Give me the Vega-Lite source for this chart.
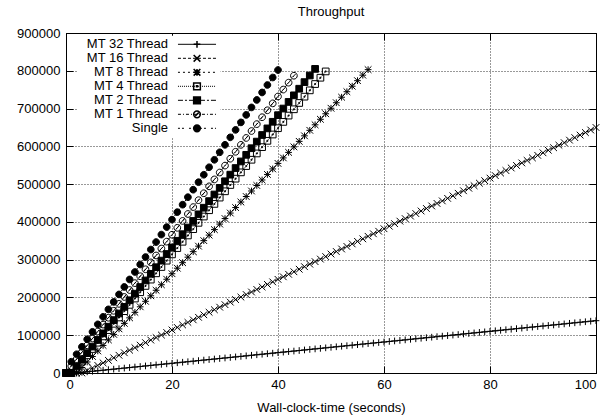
{
"$schema": "https://vega.github.io/schema/vega-lite/v6.json",
"width": 530, "height": 340,
"autosize": {"type": "none"},
"padding": {"left": 66, "top": 33, "right": 13, "bottom": 47},
"title": {"text": "Throughput", "fontSize": 13, "fontWeight": "normal", "font": "Liberation Sans", "color": "black", "anchor": "middle", "offset": 8},
"config": {
  "view": {"stroke": "black", "strokeWidth": 1},
  "font": "Liberation Sans",
  "axis": {"labelFont": "Liberation Sans", "labelFontSize": 13, "labelColor": "black", "titleFont": "Liberation Sans", "titleFontSize": 13, "titleFontWeight": "normal", "titleColor": "black", "domainColor": "black", "tickColor": "black", "tickSize": -7, "gridColor": "black", "gridDash": [1, 2], "gridOpacity": 0.8}
},
"data": {"values": [
{"s":"MT 32 Thread","t":0,"v":0},{"s":"MT 32 Thread","t":1,"v":0},{"s":"MT 32 Thread","t":2,"v":300},{"s":"MT 32 Thread","t":3,"v":1700},{"s":"MT 32 Thread","t":4,"v":3100},{"s":"MT 32 Thread","t":5,"v":4600},{"s":"MT 32 Thread","t":6,"v":6000},{"s":"MT 32 Thread","t":7,"v":7400},{"s":"MT 32 Thread","t":8,"v":8800},{"s":"MT 32 Thread","t":9,"v":10200},
{"s":"MT 32 Thread","t":10,"v":11600},{"s":"MT 32 Thread","t":11,"v":13000},{"s":"MT 32 Thread","t":12,"v":14400},{"s":"MT 32 Thread","t":13,"v":15800},{"s":"MT 32 Thread","t":14,"v":17200},{"s":"MT 32 Thread","t":15,"v":18700},{"s":"MT 32 Thread","t":16,"v":20100},{"s":"MT 32 Thread","t":17,"v":21500},{"s":"MT 32 Thread","t":18,"v":22900},{"s":"MT 32 Thread","t":19,"v":24300},
{"s":"MT 32 Thread","t":20,"v":25700},{"s":"MT 32 Thread","t":21,"v":27100},{"s":"MT 32 Thread","t":22,"v":28500},{"s":"MT 32 Thread","t":23,"v":29900},{"s":"MT 32 Thread","t":24,"v":31300},{"s":"MT 32 Thread","t":25,"v":32800},{"s":"MT 32 Thread","t":26,"v":34200},{"s":"MT 32 Thread","t":27,"v":35600},{"s":"MT 32 Thread","t":28,"v":37000},{"s":"MT 32 Thread","t":29,"v":38400},
{"s":"MT 32 Thread","t":30,"v":39800},{"s":"MT 32 Thread","t":31,"v":41200},{"s":"MT 32 Thread","t":32,"v":42600},{"s":"MT 32 Thread","t":33,"v":44000},{"s":"MT 32 Thread","t":34,"v":45400},{"s":"MT 32 Thread","t":35,"v":46900},{"s":"MT 32 Thread","t":36,"v":48300},{"s":"MT 32 Thread","t":37,"v":49700},{"s":"MT 32 Thread","t":38,"v":51100},{"s":"MT 32 Thread","t":39,"v":52500},
{"s":"MT 32 Thread","t":40,"v":53900},{"s":"MT 32 Thread","t":41,"v":55300},{"s":"MT 32 Thread","t":42,"v":56700},{"s":"MT 32 Thread","t":43,"v":58100},{"s":"MT 32 Thread","t":44,"v":59500},{"s":"MT 32 Thread","t":45,"v":61000},{"s":"MT 32 Thread","t":46,"v":62400},{"s":"MT 32 Thread","t":47,"v":63800},{"s":"MT 32 Thread","t":48,"v":65200},{"s":"MT 32 Thread","t":49,"v":66600},
{"s":"MT 32 Thread","t":50,"v":68000},{"s":"MT 32 Thread","t":51,"v":69400},{"s":"MT 32 Thread","t":52,"v":70800},{"s":"MT 32 Thread","t":53,"v":72200},{"s":"MT 32 Thread","t":54,"v":73600},{"s":"MT 32 Thread","t":55,"v":75100},{"s":"MT 32 Thread","t":56,"v":76500},{"s":"MT 32 Thread","t":57,"v":77900},{"s":"MT 32 Thread","t":58,"v":79300},{"s":"MT 32 Thread","t":59,"v":80700},
{"s":"MT 32 Thread","t":60,"v":82100},{"s":"MT 32 Thread","t":61,"v":83500},{"s":"MT 32 Thread","t":62,"v":84900},{"s":"MT 32 Thread","t":63,"v":86300},{"s":"MT 32 Thread","t":64,"v":87700},{"s":"MT 32 Thread","t":65,"v":89200},{"s":"MT 32 Thread","t":66,"v":90600},{"s":"MT 32 Thread","t":67,"v":92000},{"s":"MT 32 Thread","t":68,"v":93400},{"s":"MT 32 Thread","t":69,"v":94800},
{"s":"MT 32 Thread","t":70,"v":96200},{"s":"MT 32 Thread","t":71,"v":97600},{"s":"MT 32 Thread","t":72,"v":99000},{"s":"MT 32 Thread","t":73,"v":100400},{"s":"MT 32 Thread","t":74,"v":101800},{"s":"MT 32 Thread","t":75,"v":103300},{"s":"MT 32 Thread","t":76,"v":104700},{"s":"MT 32 Thread","t":77,"v":106100},{"s":"MT 32 Thread","t":78,"v":107500},{"s":"MT 32 Thread","t":79,"v":108900},
{"s":"MT 32 Thread","t":80,"v":110300},{"s":"MT 32 Thread","t":81,"v":111700},{"s":"MT 32 Thread","t":82,"v":113100},{"s":"MT 32 Thread","t":83,"v":114500},{"s":"MT 32 Thread","t":84,"v":115900},{"s":"MT 32 Thread","t":85,"v":117400},{"s":"MT 32 Thread","t":86,"v":118800},{"s":"MT 32 Thread","t":87,"v":120200},{"s":"MT 32 Thread","t":88,"v":121600},{"s":"MT 32 Thread","t":89,"v":123000},
{"s":"MT 32 Thread","t":90,"v":124400},{"s":"MT 32 Thread","t":91,"v":125800},{"s":"MT 32 Thread","t":92,"v":127200},{"s":"MT 32 Thread","t":93,"v":128600},{"s":"MT 32 Thread","t":94,"v":130000},{"s":"MT 32 Thread","t":95,"v":131500},{"s":"MT 32 Thread","t":96,"v":132900},{"s":"MT 32 Thread","t":97,"v":134300},{"s":"MT 32 Thread","t":98,"v":135700},{"s":"MT 32 Thread","t":99,"v":137100},{"s":"MT 32 Thread","t":100,"v":138500},
{"s":"MT 16 Thread","t":0,"v":0},{"s":"MT 16 Thread","t":1,"v":0},{"s":"MT 16 Thread","t":2,"v":0},{"s":"MT 16 Thread","t":3,"v":0},{"s":"MT 16 Thread","t":4,"v":6700},{"s":"MT 16 Thread","t":5,"v":13400},{"s":"MT 16 Thread","t":6,"v":20100},{"s":"MT 16 Thread","t":7,"v":26800},{"s":"MT 16 Thread","t":8,"v":33500},{"s":"MT 16 Thread","t":9,"v":40200},
{"s":"MT 16 Thread","t":10,"v":46900},{"s":"MT 16 Thread","t":11,"v":53600},{"s":"MT 16 Thread","t":12,"v":60300},{"s":"MT 16 Thread","t":13,"v":67000},{"s":"MT 16 Thread","t":14,"v":73700},{"s":"MT 16 Thread","t":15,"v":80400},{"s":"MT 16 Thread","t":16,"v":87100},{"s":"MT 16 Thread","t":17,"v":93800},{"s":"MT 16 Thread","t":18,"v":100500},{"s":"MT 16 Thread","t":19,"v":107200},
{"s":"MT 16 Thread","t":20,"v":113900},{"s":"MT 16 Thread","t":21,"v":120600},{"s":"MT 16 Thread","t":22,"v":127300},{"s":"MT 16 Thread","t":23,"v":134000},{"s":"MT 16 Thread","t":24,"v":140700},{"s":"MT 16 Thread","t":25,"v":147400},{"s":"MT 16 Thread","t":26,"v":154100},{"s":"MT 16 Thread","t":27,"v":160800},{"s":"MT 16 Thread","t":28,"v":167500},{"s":"MT 16 Thread","t":29,"v":174200},
{"s":"MT 16 Thread","t":30,"v":180900},{"s":"MT 16 Thread","t":31,"v":187600},{"s":"MT 16 Thread","t":32,"v":194300},{"s":"MT 16 Thread","t":33,"v":201000},{"s":"MT 16 Thread","t":34,"v":207700},{"s":"MT 16 Thread","t":35,"v":214400},{"s":"MT 16 Thread","t":36,"v":221100},{"s":"MT 16 Thread","t":37,"v":227800},{"s":"MT 16 Thread","t":38,"v":234500},{"s":"MT 16 Thread","t":39,"v":241200},
{"s":"MT 16 Thread","t":40,"v":247900},{"s":"MT 16 Thread","t":41,"v":254600},{"s":"MT 16 Thread","t":42,"v":261300},{"s":"MT 16 Thread","t":43,"v":268000},{"s":"MT 16 Thread","t":44,"v":274700},{"s":"MT 16 Thread","t":45,"v":281400},{"s":"MT 16 Thread","t":46,"v":288100},{"s":"MT 16 Thread","t":47,"v":294800},{"s":"MT 16 Thread","t":48,"v":301500},{"s":"MT 16 Thread","t":49,"v":308200},
{"s":"MT 16 Thread","t":50,"v":314900},{"s":"MT 16 Thread","t":51,"v":321600},{"s":"MT 16 Thread","t":52,"v":328300},{"s":"MT 16 Thread","t":53,"v":335000},{"s":"MT 16 Thread","t":54,"v":341700},{"s":"MT 16 Thread","t":55,"v":348400},{"s":"MT 16 Thread","t":56,"v":355100},{"s":"MT 16 Thread","t":57,"v":361800},{"s":"MT 16 Thread","t":58,"v":368500},{"s":"MT 16 Thread","t":59,"v":375200},
{"s":"MT 16 Thread","t":60,"v":381900},{"s":"MT 16 Thread","t":61,"v":388600},{"s":"MT 16 Thread","t":62,"v":395300},{"s":"MT 16 Thread","t":63,"v":402000},{"s":"MT 16 Thread","t":64,"v":408700},{"s":"MT 16 Thread","t":65,"v":415400},{"s":"MT 16 Thread","t":66,"v":422100},{"s":"MT 16 Thread","t":67,"v":428800},{"s":"MT 16 Thread","t":68,"v":435500},{"s":"MT 16 Thread","t":69,"v":442200},
{"s":"MT 16 Thread","t":70,"v":448900},{"s":"MT 16 Thread","t":71,"v":455600},{"s":"MT 16 Thread","t":72,"v":462300},{"s":"MT 16 Thread","t":73,"v":469000},{"s":"MT 16 Thread","t":74,"v":475700},{"s":"MT 16 Thread","t":75,"v":482400},{"s":"MT 16 Thread","t":76,"v":489100},{"s":"MT 16 Thread","t":77,"v":495800},{"s":"MT 16 Thread","t":78,"v":502500},{"s":"MT 16 Thread","t":79,"v":509200},
{"s":"MT 16 Thread","t":80,"v":515900},{"s":"MT 16 Thread","t":81,"v":522600},{"s":"MT 16 Thread","t":82,"v":529300},{"s":"MT 16 Thread","t":83,"v":536000},{"s":"MT 16 Thread","t":84,"v":542700},{"s":"MT 16 Thread","t":85,"v":549400},{"s":"MT 16 Thread","t":86,"v":556100},{"s":"MT 16 Thread","t":87,"v":562800},{"s":"MT 16 Thread","t":88,"v":569500},{"s":"MT 16 Thread","t":89,"v":576200},
{"s":"MT 16 Thread","t":90,"v":582900},{"s":"MT 16 Thread","t":91,"v":589600},{"s":"MT 16 Thread","t":92,"v":596300},{"s":"MT 16 Thread","t":93,"v":603000},{"s":"MT 16 Thread","t":94,"v":609700},{"s":"MT 16 Thread","t":95,"v":616400},{"s":"MT 16 Thread","t":96,"v":623100},{"s":"MT 16 Thread","t":97,"v":629800},{"s":"MT 16 Thread","t":98,"v":636500},{"s":"MT 16 Thread","t":99,"v":643200},{"s":"MT 16 Thread","t":100,"v":649900},
{"s":"MT 8 Thread","t":0,"v":0},{"s":"MT 8 Thread","t":1,"v":0},{"s":"MT 8 Thread","t":2,"v":0},{"s":"MT 8 Thread","t":3,"v":14600},{"s":"MT 8 Thread","t":4,"v":29200},{"s":"MT 8 Thread","t":5,"v":43800},{"s":"MT 8 Thread","t":6,"v":58400},{"s":"MT 8 Thread","t":7,"v":73000},{"s":"MT 8 Thread","t":8,"v":87600},{"s":"MT 8 Thread","t":9,"v":102200},
{"s":"MT 8 Thread","t":10,"v":116800},{"s":"MT 8 Thread","t":11,"v":131400},{"s":"MT 8 Thread","t":12,"v":146000},{"s":"MT 8 Thread","t":13,"v":160600},{"s":"MT 8 Thread","t":14,"v":175200},{"s":"MT 8 Thread","t":15,"v":189800},{"s":"MT 8 Thread","t":16,"v":204400},{"s":"MT 8 Thread","t":17,"v":219000},{"s":"MT 8 Thread","t":18,"v":233600},{"s":"MT 8 Thread","t":19,"v":248200},
{"s":"MT 8 Thread","t":20,"v":262800},{"s":"MT 8 Thread","t":21,"v":277400},{"s":"MT 8 Thread","t":22,"v":292000},{"s":"MT 8 Thread","t":23,"v":306600},{"s":"MT 8 Thread","t":24,"v":321200},{"s":"MT 8 Thread","t":25,"v":335800},{"s":"MT 8 Thread","t":26,"v":350400},{"s":"MT 8 Thread","t":27,"v":365000},{"s":"MT 8 Thread","t":28,"v":379600},{"s":"MT 8 Thread","t":29,"v":394200},
{"s":"MT 8 Thread","t":30,"v":408800},{"s":"MT 8 Thread","t":31,"v":423400},{"s":"MT 8 Thread","t":32,"v":438000},{"s":"MT 8 Thread","t":33,"v":452600},{"s":"MT 8 Thread","t":34,"v":467200},{"s":"MT 8 Thread","t":35,"v":481800},{"s":"MT 8 Thread","t":36,"v":496400},{"s":"MT 8 Thread","t":37,"v":511000},{"s":"MT 8 Thread","t":38,"v":525600},{"s":"MT 8 Thread","t":39,"v":540200},
{"s":"MT 8 Thread","t":40,"v":554800},{"s":"MT 8 Thread","t":41,"v":569400},{"s":"MT 8 Thread","t":42,"v":584000},{"s":"MT 8 Thread","t":43,"v":598600},{"s":"MT 8 Thread","t":44,"v":613200},{"s":"MT 8 Thread","t":45,"v":627800},{"s":"MT 8 Thread","t":46,"v":642400},{"s":"MT 8 Thread","t":47,"v":657000},{"s":"MT 8 Thread","t":48,"v":671600},{"s":"MT 8 Thread","t":49,"v":686200},
{"s":"MT 8 Thread","t":50,"v":700800},{"s":"MT 8 Thread","t":51,"v":715400},{"s":"MT 8 Thread","t":52,"v":730000},{"s":"MT 8 Thread","t":53,"v":744600},{"s":"MT 8 Thread","t":54,"v":759200},{"s":"MT 8 Thread","t":55,"v":773800},{"s":"MT 8 Thread","t":56,"v":788400},{"s":"MT 8 Thread","t":57,"v":803000},
{"s":"MT 4 Thread","t":0,"v":0},{"s":"MT 4 Thread","t":1,"v":0},{"s":"MT 4 Thread","t":2,"v":13400},{"s":"MT 4 Thread","t":3,"v":30100},{"s":"MT 4 Thread","t":4,"v":46800},{"s":"MT 4 Thread","t":5,"v":63500},{"s":"MT 4 Thread","t":6,"v":80200},{"s":"MT 4 Thread","t":7,"v":96900},{"s":"MT 4 Thread","t":8,"v":113600},{"s":"MT 4 Thread","t":9,"v":130300},
{"s":"MT 4 Thread","t":10,"v":147000},{"s":"MT 4 Thread","t":11,"v":163700},{"s":"MT 4 Thread","t":12,"v":180400},{"s":"MT 4 Thread","t":13,"v":197100},{"s":"MT 4 Thread","t":14,"v":213800},{"s":"MT 4 Thread","t":15,"v":230500},{"s":"MT 4 Thread","t":16,"v":247200},{"s":"MT 4 Thread","t":17,"v":263900},{"s":"MT 4 Thread","t":18,"v":280600},{"s":"MT 4 Thread","t":19,"v":297300},
{"s":"MT 4 Thread","t":20,"v":314000},{"s":"MT 4 Thread","t":21,"v":330700},{"s":"MT 4 Thread","t":22,"v":347400},{"s":"MT 4 Thread","t":23,"v":364100},{"s":"MT 4 Thread","t":24,"v":380800},{"s":"MT 4 Thread","t":25,"v":397500},{"s":"MT 4 Thread","t":26,"v":414200},{"s":"MT 4 Thread","t":27,"v":430900},{"s":"MT 4 Thread","t":28,"v":447600},{"s":"MT 4 Thread","t":29,"v":464300},
{"s":"MT 4 Thread","t":30,"v":481000},{"s":"MT 4 Thread","t":31,"v":497700},{"s":"MT 4 Thread","t":32,"v":514400},{"s":"MT 4 Thread","t":33,"v":531100},{"s":"MT 4 Thread","t":34,"v":547800},{"s":"MT 4 Thread","t":35,"v":564500},{"s":"MT 4 Thread","t":36,"v":581200},{"s":"MT 4 Thread","t":37,"v":597900},{"s":"MT 4 Thread","t":38,"v":614600},{"s":"MT 4 Thread","t":39,"v":631300},
{"s":"MT 4 Thread","t":40,"v":648000},{"s":"MT 4 Thread","t":41,"v":664700},{"s":"MT 4 Thread","t":42,"v":681400},{"s":"MT 4 Thread","t":43,"v":698100},{"s":"MT 4 Thread","t":44,"v":714800},{"s":"MT 4 Thread","t":45,"v":731500},{"s":"MT 4 Thread","t":46,"v":748200},{"s":"MT 4 Thread","t":47,"v":764900},{"s":"MT 4 Thread","t":48,"v":781600},{"s":"MT 4 Thread","t":49,"v":798300},
{"s":"MT 2 Thread","t":0,"v":0},{"s":"MT 2 Thread","t":1,"v":0},{"s":"MT 2 Thread","t":2,"v":17500},{"s":"MT 2 Thread","t":3,"v":35000},{"s":"MT 2 Thread","t":4,"v":52500},{"s":"MT 2 Thread","t":5,"v":70000},{"s":"MT 2 Thread","t":6,"v":87500},{"s":"MT 2 Thread","t":7,"v":105000},{"s":"MT 2 Thread","t":8,"v":122500},{"s":"MT 2 Thread","t":9,"v":140000},
{"s":"MT 2 Thread","t":10,"v":157500},{"s":"MT 2 Thread","t":11,"v":175000},{"s":"MT 2 Thread","t":12,"v":192500},{"s":"MT 2 Thread","t":13,"v":210000},{"s":"MT 2 Thread","t":14,"v":227500},{"s":"MT 2 Thread","t":15,"v":245000},{"s":"MT 2 Thread","t":16,"v":262500},{"s":"MT 2 Thread","t":17,"v":280000},{"s":"MT 2 Thread","t":18,"v":297500},{"s":"MT 2 Thread","t":19,"v":315000},
{"s":"MT 2 Thread","t":20,"v":332500},{"s":"MT 2 Thread","t":21,"v":350000},{"s":"MT 2 Thread","t":22,"v":367500},{"s":"MT 2 Thread","t":23,"v":385000},{"s":"MT 2 Thread","t":24,"v":402500},{"s":"MT 2 Thread","t":25,"v":420000},{"s":"MT 2 Thread","t":26,"v":437500},{"s":"MT 2 Thread","t":27,"v":455000},{"s":"MT 2 Thread","t":28,"v":472500},{"s":"MT 2 Thread","t":29,"v":490000},
{"s":"MT 2 Thread","t":30,"v":507500},{"s":"MT 2 Thread","t":31,"v":525000},{"s":"MT 2 Thread","t":32,"v":542500},{"s":"MT 2 Thread","t":33,"v":560000},{"s":"MT 2 Thread","t":34,"v":577500},{"s":"MT 2 Thread","t":35,"v":595000},{"s":"MT 2 Thread","t":36,"v":612500},{"s":"MT 2 Thread","t":37,"v":630000},{"s":"MT 2 Thread","t":38,"v":647500},{"s":"MT 2 Thread","t":39,"v":665000},
{"s":"MT 2 Thread","t":40,"v":682500},{"s":"MT 2 Thread","t":41,"v":700000},{"s":"MT 2 Thread","t":42,"v":717500},{"s":"MT 2 Thread","t":43,"v":735000},{"s":"MT 2 Thread","t":44,"v":752500},{"s":"MT 2 Thread","t":45,"v":770000},{"s":"MT 2 Thread","t":46,"v":787500},{"s":"MT 2 Thread","t":47,"v":805000},
{"s":"MT 1 Thread","t":0,"v":0},{"s":"MT 1 Thread","t":1,"v":18300},{"s":"MT 1 Thread","t":2,"v":36600},{"s":"MT 1 Thread","t":3,"v":54900},{"s":"MT 1 Thread","t":4,"v":73200},{"s":"MT 1 Thread","t":5,"v":91500},{"s":"MT 1 Thread","t":6,"v":109800},{"s":"MT 1 Thread","t":7,"v":128100},{"s":"MT 1 Thread","t":8,"v":146400},{"s":"MT 1 Thread","t":9,"v":164700},
{"s":"MT 1 Thread","t":10,"v":183000},{"s":"MT 1 Thread","t":11,"v":201300},{"s":"MT 1 Thread","t":12,"v":219600},{"s":"MT 1 Thread","t":13,"v":237900},{"s":"MT 1 Thread","t":14,"v":256200},{"s":"MT 1 Thread","t":15,"v":274500},{"s":"MT 1 Thread","t":16,"v":292800},{"s":"MT 1 Thread","t":17,"v":311100},{"s":"MT 1 Thread","t":18,"v":329400},{"s":"MT 1 Thread","t":19,"v":347700},
{"s":"MT 1 Thread","t":20,"v":366000},{"s":"MT 1 Thread","t":21,"v":384300},{"s":"MT 1 Thread","t":22,"v":402600},{"s":"MT 1 Thread","t":23,"v":420900},{"s":"MT 1 Thread","t":24,"v":439200},{"s":"MT 1 Thread","t":25,"v":457500},{"s":"MT 1 Thread","t":26,"v":475800},{"s":"MT 1 Thread","t":27,"v":494100},{"s":"MT 1 Thread","t":28,"v":512400},{"s":"MT 1 Thread","t":29,"v":530700},
{"s":"MT 1 Thread","t":30,"v":549000},{"s":"MT 1 Thread","t":31,"v":567300},{"s":"MT 1 Thread","t":32,"v":585600},{"s":"MT 1 Thread","t":33,"v":603900},{"s":"MT 1 Thread","t":34,"v":622200},{"s":"MT 1 Thread","t":35,"v":640500},{"s":"MT 1 Thread","t":36,"v":658800},{"s":"MT 1 Thread","t":37,"v":677100},{"s":"MT 1 Thread","t":38,"v":695400},{"s":"MT 1 Thread","t":39,"v":713700},
{"s":"MT 1 Thread","t":40,"v":732000},{"s":"MT 1 Thread","t":41,"v":750300},{"s":"MT 1 Thread","t":42,"v":768600},{"s":"MT 1 Thread","t":43,"v":786900},
{"s":"Single","t":0,"v":0},{"s":"Single","t":1,"v":29800},{"s":"Single","t":2,"v":49600},{"s":"Single","t":3,"v":69400},{"s":"Single","t":4,"v":89200},{"s":"Single","t":5,"v":109000},{"s":"Single","t":6,"v":128800},{"s":"Single","t":7,"v":148600},{"s":"Single","t":8,"v":168400},{"s":"Single","t":9,"v":188200},
{"s":"Single","t":10,"v":208000},{"s":"Single","t":11,"v":227800},{"s":"Single","t":12,"v":247600},{"s":"Single","t":13,"v":267400},{"s":"Single","t":14,"v":287200},{"s":"Single","t":15,"v":307000},{"s":"Single","t":16,"v":326800},{"s":"Single","t":17,"v":346600},{"s":"Single","t":18,"v":366400},{"s":"Single","t":19,"v":386200},
{"s":"Single","t":20,"v":406000},{"s":"Single","t":21,"v":425800},{"s":"Single","t":22,"v":445600},{"s":"Single","t":23,"v":465400},{"s":"Single","t":24,"v":485200},{"s":"Single","t":25,"v":505000},{"s":"Single","t":26,"v":524800},{"s":"Single","t":27,"v":544600},{"s":"Single","t":28,"v":564400},{"s":"Single","t":29,"v":584200},
{"s":"Single","t":30,"v":604000},{"s":"Single","t":31,"v":623800},{"s":"Single","t":32,"v":643600},{"s":"Single","t":33,"v":663400},{"s":"Single","t":34,"v":683200},{"s":"Single","t":35,"v":703000},{"s":"Single","t":36,"v":722800},{"s":"Single","t":37,"v":742600},{"s":"Single","t":38,"v":762400},{"s":"Single","t":39,"v":782200},{"s":"Single","t":40,"v":802000}
]},
"resolve": {"axis": {"x": "independent", "y": "independent"}},
"layer": [
  {
    "mark": {"type": "line", "stroke": "black", "strokeWidth": 1},
    "encoding": {
      "x": {"field": "t", "type": "quantitative", "scale": {"domain": [0, 100], "nice": false, "zero": false}, "axis": {"orient": "bottom", "title": "Wall-clock-time (seconds)", "values": [0, 20, 40, 60, 80, 100], "grid": true, "labelPadding": 12, "titlePadding": 10}},
      "y": {"field": "v", "type": "quantitative", "scale": {"domain": [0, 900000], "nice": false}, "axis": {"orient": "left", "title": null, "values": [0, 100000, 200000, 300000, 400000, 500000, 600000, 700000, 800000, 900000], "format": "d", "grid": true, "labelPadding": 13}},
      "strokeDash": {"field": "s", "type": "nominal", "sort": ["MT 32 Thread", "MT 16 Thread", "MT 8 Thread", "MT 4 Thread", "MT 2 Thread", "MT 1 Thread", "Single"],
        "scale": {"range": [[1, 0], [3, 2], [2, 3], [1, 1], [5, 2, 2, 2], [3, 2, 1, 2], [2, 2, 2, 5]]},
        "legend": {"orient": "none", "legendX": 11.5, "legendY": 2.8, "title": null, "padding": 2, "labelFontSize": 13, "labelFont": "Liberation Sans", "labelColor": "black", "labelAlign": "right", "labelOffset": -35.5, "symbolOffset": 111, "rowPadding": 0, "symbolSize": 45, "symbolType": "M-5.67,0H5.67", "symbolStrokeColor": "black", "symbolStrokeWidth": 1, "fillColor": "white", "zindex": 0, "labelLimit": 0}}
    }
  },
  {
    "mark": {"type": "point", "filled": false, "stroke": "black", "strokeWidth": 1, "opacity": 1, "size": 45},
    "encoding": {
      "x": {"field": "t", "type": "quantitative", "axis": {"orient": "top", "labels": false, "title": null, "grid": false, "domain": false, "values": [0, 20, 40, 60, 80, 100]}},
      "y": {"field": "v", "type": "quantitative", "axis": {"orient": "right", "labels": false, "title": null, "grid": false, "domain": false, "values": [0, 100000, 200000, 300000, 400000, 500000, 600000, 700000, 800000, 900000]}},
      "shape": {"field": "s", "type": "nominal",
        "scale": {"domain": ["MT 32 Thread", "MT 16 Thread", "MT 8 Thread", "MT 4 Thread", "MT 2 Thread", "MT 1 Thread", "Single"], "range": ["M-1,0H1M0,-1V1", "M-1,-1L1,1M-1,1L1,-1", "M-1,0H1M0,-1V1M-1,-1L1,1M-1,1L1,-1", "M-1,-1H1V1H-1ZM-0.15,-0.15H0.15V0.15H-0.15Z", "M-1,-1H1V1H-1Z", "M1,0A1,1,0,1,1,-1,0A1,1,0,1,1,1,0ZM-0.5,0.5L0.5,-0.5", "M1,0A1,1,0,1,1,-1,0A1,1,0,1,1,1,0Z"]},
        "legend": {"orient": "none", "legendX": 11.5, "legendY": 2.8, "title": null, "padding": 2, "labelFontSize": 13, "labelFont": "Liberation Sans", "labelOpacity": 0, "labelAlign": "right", "labelOffset": -35.5, "symbolOffset": 111, "rowPadding": 0, "symbolSize": 45, "zindex": 1, "labelLimit": 0,
          "encode": {"symbols": {"stroke": {"value": "black"}, "strokeWidth": {"value": 1}, "strokeOpacity": {"value": 1}}}}},
      "fill": {"field": "s", "type": "nominal",
        "scale": {"domain": ["MT 32 Thread", "MT 16 Thread", "MT 8 Thread", "MT 4 Thread", "MT 2 Thread", "MT 1 Thread", "Single"], "range": ["transparent", "transparent", "transparent", "transparent", "black", "transparent", "black"]},
        "legend": null}
    }
  }
]
}
